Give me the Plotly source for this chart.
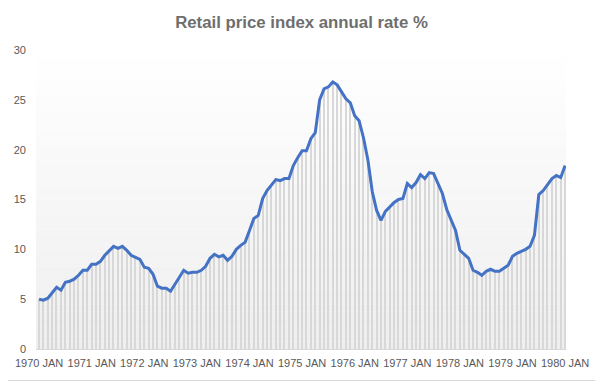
import plotly.graph_objects as go

months = ["JAN", "FEB", "MAR", "APR", "MAY", "JUN", "JUL", "AUG", "SEP", "OCT", "NOV", "DEC"]
years = list(range(1970, 1981))
categories = [f"{y} {m}" for y in years for m in months][:121]
tick_labels = [f"{y} JAN" for y in years]

rpi_rate = [
    5.0, 4.9, 5.1, 5.6, 6.2, 5.9, 6.7, 6.8, 7.0, 7.4, 7.9, 7.9,        # 1970
    8.5, 8.5, 8.8, 9.4, 9.8, 10.3, 10.1, 10.3, 9.9, 9.4, 9.2, 9.0,     # 1971
    8.2, 8.1, 7.5, 6.3, 6.1, 6.1, 5.8, 6.5, 7.1, 7.9, 7.6, 7.7,        # 1972
    7.7, 7.9, 8.3, 9.1, 9.5, 9.25, 9.4, 8.9, 9.3, 10.0, 10.4, 10.7,    # 1973
    11.9, 13.1, 13.4, 15.1, 15.9, 16.45, 17.0, 16.9, 17.1, 17.1, 18.4, 19.2,  # 1974
    19.9, 19.9, 21.1, 21.7, 25.0, 26.1, 26.3, 26.8, 26.5, 25.8, 25.1, 24.7,  # 1975
    23.4, 22.9, 21.2, 19.0, 15.8, 13.9, 12.9, 13.8, 14.3, 14.7, 15.0, 15.1,  # 1976
    16.6, 16.2, 16.7, 17.5, 17.1, 17.7, 17.6, 16.5, 15.6, 14.0, 12.9, 11.9,  # 1977
    9.9, 9.5, 9.1, 7.9, 7.7, 7.4, 7.8, 8.0, 7.8, 7.8, 8.1, 8.4,        # 1978
    9.3, 9.6, 9.8, 10.0, 10.3, 11.4, 15.5, 15.9, 16.5, 17.1, 17.4, 17.2,  # 1979
    18.4,                                                              # 1980
]

# The page body adds an 8px offset; the figure is laid out to compensate.
OFF = 8
PL, PT, PW, PH = 36 - OFF, 50 - OFF, 530, 299
W, H = 603, 381

fig = go.Figure()
fig.add_trace(go.Bar(
    x=categories, y=rpi_rate, width=0.28,
    marker=dict(color="#d8d8d8", line=dict(width=0)),
    showlegend=False, hoverinfo="skip",
))
fig.add_trace(go.Scatter(
    x=categories, y=rpi_rate, mode="lines",
    line=dict(color="#4472C4", width=3),
    showlegend=False,
))

# plot-area gradient (white at top to light grey at bottom)
shapes = []
n = 40
for k in range(n):
    t = (k + 0.5) / n  # 0 bottom, 1 top
    c = int(round(238 + (255 - 238) * t))
    shapes.append(dict(type="rect", xref="paper", yref="paper",
                       x0=0, x1=1, y0=k / n, y1=(k + 1) / n,
                       fillcolor=f"rgb({c},{c},{c})", line=dict(width=0),
                       layer="below"))


def px_to_paper_x(px):
    return (px - OFF - PL) / PW


def px_to_paper_y(py):
    return (PT + PH - (py - OFF)) / PH


# chart border (right and bottom edges visible inside the figure)
shapes.append(dict(type="line", xref="paper", yref="paper",
                   x0=px_to_paper_x(602.5), x1=px_to_paper_x(602.5),
                   y0=px_to_paper_y(0), y1=px_to_paper_y(380.5),
                   line=dict(color="#d9d9d9", width=1)))
shapes.append(dict(type="line", xref="paper", yref="paper",
                   x0=px_to_paper_x(0), x1=px_to_paper_x(602.5),
                   y0=px_to_paper_y(380.5), y1=px_to_paper_y(380.5),
                   line=dict(color="#d9d9d9", width=1)))

fig.update_layout(
    width=W, height=H,
    margin=dict(l=PL, r=W - PL - PW, t=PT, b=H - PT - PH, autoexpand=False),
    paper_bgcolor="white", plot_bgcolor="white",
    bargap=0,
    shapes=shapes,
    title=dict(text="Retail price index annual rate %",
               x=(301.5 - OFF) / W, xref="container", xanchor="center",
               y=1 - (22 - OFF) / H, yref="container", yanchor="middle",
               font=dict(family="Liberation Sans", size=16.8, color="#6e6e6e", weight="bold")),
    font=dict(family="Liberation Sans", size=11, color="#595959"),
)
fig.update_xaxes(
    type="category", range=[-0.7, 120.2], automargin=False,
    tickvals=tick_labels, ticktext=tick_labels,
    showgrid=False, zeroline=False,
    showline=True, linecolor="#d9d9d9", linewidth=1,
    ticks="", ticklabelstandoff=4, tickangle=0,
    tickfont=dict(size=11, color="#595959"),
)
fig.update_yaxes(
    range=[0, 30], dtick=5, tick0=0, automargin=False,
    showgrid=False, zeroline=False, showline=False,
    ticks="", ticklabelstandoff=9,
    tickfont=dict(size=11, color="#595959"),
)

fig.write_html("out.html")
